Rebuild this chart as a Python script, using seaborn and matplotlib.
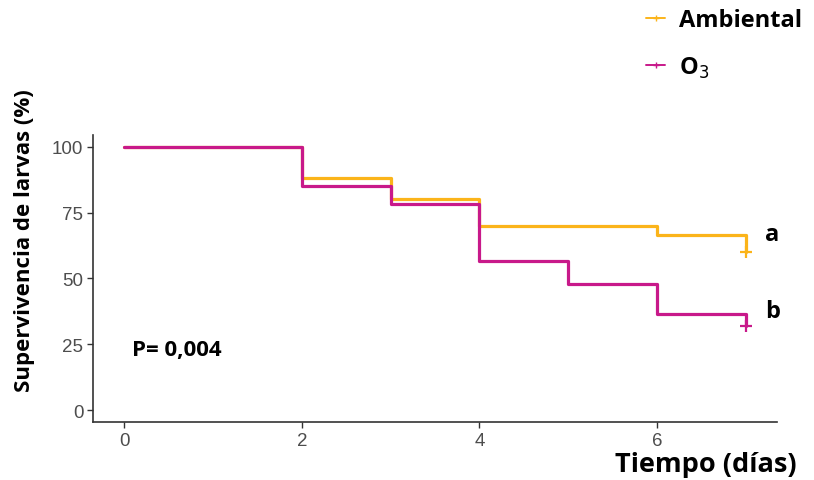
import matplotlib
matplotlib.use("Agg")
import matplotlib.pyplot as plt
from matplotlib.lines import Line2D
from matplotlib.font_manager import FontProperties
import seaborn as sns
import pandas as pd

# Kaplan-Meier survival of larvae by treatment
days_ambiental = [0, 2, 3, 4, 6, 7]
surv_ambiental = [100, 88.2, 80.0, 70.0, 66.7, 60.0]
days_o3 = [0, 2, 3, 4, 5, 6, 7]
surv_o3 = [100, 85.0, 78.3, 56.7, 48.0, 36.7, 32.0]

groups = ["Ambiental", "O3"]
colors = {"Ambiental": "#FBB41A", "O3": "#C8198A"}
letters = {"Ambiental": "a", "O3": "b"}

df = pd.concat([
    pd.DataFrame({"dia": days_ambiental, "sup": surv_ambiental, "grupo": "Ambiental"}),
    pd.DataFrame({"dia": days_o3, "sup": surv_o3, "grupo": "O3"}),
])

sns.set_style("white")
plt.rcParams["font.family"] = ["Liberation Sans", "DejaVu Sans"]

fig = plt.figure(figsize=(8.14, 4.81), dpi=100)
ax = fig.add_axes([0.1143, 0.1206, 0.8402, 0.5967])

sns.lineplot(data=df, x="dia", y="sup", hue="grupo", palette=colors,
             hue_order=groups, drawstyle="steps-post", linewidth=2.3,
             legend=False, ax=ax, estimator=None)

# censored observations at the end of follow-up
ends = df.groupby("grupo").last()
for g in groups:
    ax.plot(ends.loc[g, "dia"], ends.loc[g, "sup"], marker="+", ms=9, mew=1.6,
            color=colors[g], linestyle="none")

ax.set_xlim(-0.35, 7.35)
ax.set_ylim(-4.5, 104.5)
ax.set_xticks([0, 2, 4, 6])
ax.set_yticks([0, 25, 50, 75, 100])
ax.tick_params(axis="both", length=4, width=1.0, color="#333333",
               labelsize=13.5, labelcolor="#4D4D4D", direction="out", pad=3)
ax.tick_params(axis="x", bottom=True)
ax.tick_params(axis="y", left=True)
for s in ["top", "right"]:
    ax.spines[s].set_visible(False)
for s in ["left", "bottom"]:
    ax.spines[s].set_color("#333333")
    ax.spines[s].set_linewidth(1.2)

bold = dict(family=["Open Sans", "DejaVu Sans"], fontweight="bold", color="black")
ax.set_ylabel("Supervivencia de larvas (%)", fontsize=16, **bold)
ax.yaxis.set_label_coords(-0.085, 0.634)
ax.set_xlabel("")
fig.text(0.979, 0.034, "Tiempo (días)", ha="right", va="center", fontsize=19.5,
         **bold)

ax.text(0.09, 23, "P= 0,004", ha="left", va="center", fontsize=16, **bold)
ax.text(7.22, 67.0, letters["Ambiental"], ha="left", va="center", fontsize=17,
        clip_on=False, **bold)
ax.text(7.22, 37.5, letters["O3"], ha="left", va="center", fontsize=17,
        clip_on=False, **bold)

handles = [Line2D([], [], color=colors[g], lw=1.4, marker="+", ms=5, mew=1.0)
           for g in groups]
fig.legend(handles, ["Ambiental", "O$_3$"], loc="upper left",
           bbox_to_anchor=(0.768, 1.025), frameon=False, handlelength=0.8,
           handletextpad=0.6, labelspacing=0.95, labelcolor="black",
           prop=FontProperties(family="Open Sans", weight="bold", size=17))

fig.savefig("out.png", dpi=100)
